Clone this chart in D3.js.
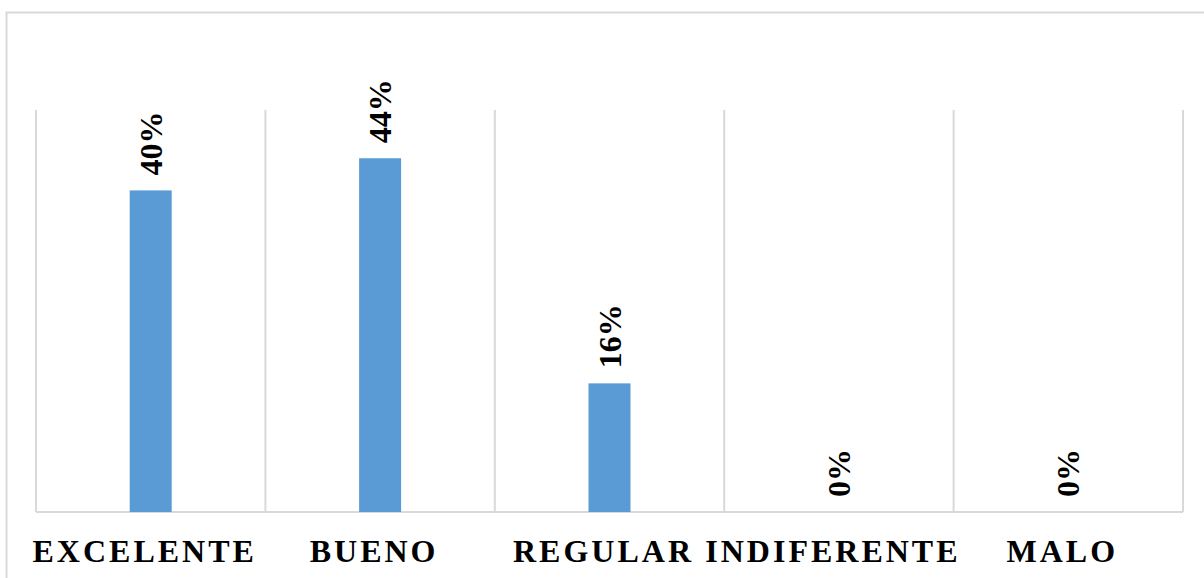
<!DOCTYPE html>
<html><head><meta charset="utf-8">
<script src="https://cdn.jsdelivr.net/npm/d3@7"></script>
<style>body{margin:0;background:#fff}svg{display:block}</style>
</head><body>
<svg id="c" width="1204" height="578"></svg>
<script>
const categories = ["EXCELENTE","BUENO","REGULAR","INDIFERENTE","MALO"];
const values = [0.40, 0.44, 0.16, 0.00, 0.00];
const valueLabels = ["40%","44%","16%","0%","0%"];

const svg = d3.select("#c");
const plot = {left: 36, right: 1183, top: 110, bottom: 512};

svg.append("rect").attr("x",6.5).attr("y",12.5).attr("width",1210).attr("height",600)
  .attr("fill","#fff").attr("stroke","#d9d9d9").attr("stroke-width",2);

const x = d3.scaleBand().domain(categories).range([plot.left, plot.right]).paddingInner(0).paddingOuter(0);
const y = d3.scaleLinear().domain([0, 0.5]).range([plot.bottom, plot.top]);

const bounds = categories.map(c => x(c)).concat([plot.right]);
svg.append("g").selectAll("line").data(bounds).join("line")
  .attr("x1", d => d).attr("x2", d => d).attr("y1", plot.top).attr("y2", plot.bottom)
  .attr("stroke","#d9d9d9").attr("stroke-width",2);

svg.append("line").attr("x1",plot.left).attr("x2",plot.right).attr("y1",plot.bottom).attr("y2",plot.bottom)
  .attr("stroke","#d9d9d9").attr("stroke-width",2);

const barW = 42;
svg.append("g").selectAll("rect").data(categories).join("rect")
  .attr("x", c => x(c) + x.bandwidth()/2 - barW/2)
  .attr("width", barW)
  .attr("y", (c,i) => y(values[i]))
  .attr("height", (c,i) => plot.bottom - y(values[i]))
  .attr("fill","#5b9bd5");

svg.append("g").selectAll("text").data(categories).join("text")
  .attr("transform", (c,i) => `translate(${x(c)+x.bandwidth()/2},${y(values[i]) - 15}) rotate(-90)`)
  .attr("text-anchor","start")
  .attr("dominant-baseline","central")
  .attr("font-family","'Liberation Serif', 'Times New Roman', serif")
  .attr("font-weight","bold")
  .attr("font-size", 32)
  .attr("fill","#000")
  .text((c,i) => valueLabels[i]);

svg.append("g").selectAll("text").data(categories).join("text")
  .attr("x", c => x(c) + x.bandwidth()/2 - 6)
  .attr("y", 562)
  .attr("text-anchor","middle")
  .attr("font-family","'Liberation Serif', 'Times New Roman', serif")
  .attr("font-weight","bold")
  .attr("font-size", 32)
  .attr("letter-spacing", 3)
  .attr("fill","#000")
  .text(c => c);
</script>
</body></html>
